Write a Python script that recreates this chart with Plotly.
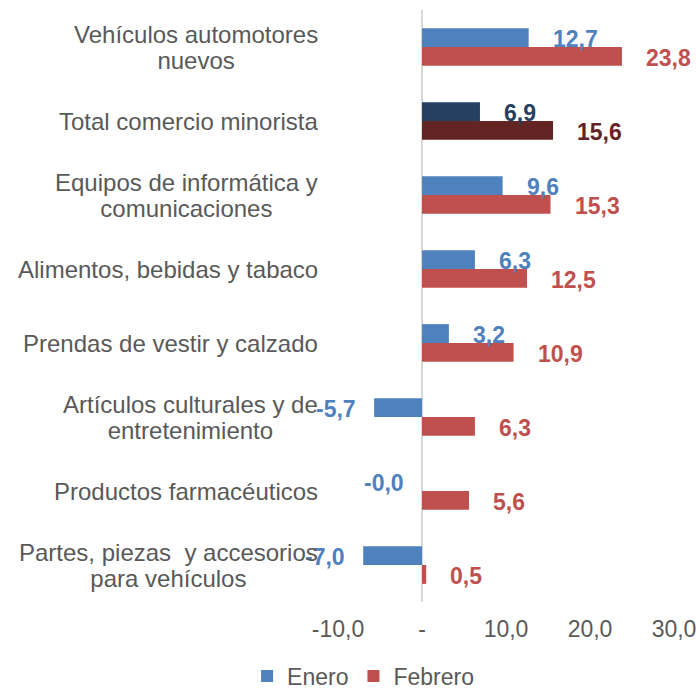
import math
import plotly.graph_objects as go

categories = [
    "Vehículos automotores\nnuevos",
    "Total comercio minorista",
    "Equipos de informática y\ncomunicaciones",
    "Alimentos, bebidas y tabaco",
    "Prendas de vestir y calzado",
    "Artículos culturales y de\nentretenimiento",
    "Productos farmacéuticos",
    "Partes, piezas  y accesorios\npara vehículos",
]
enero = [12.7, 6.9, 9.6, 6.3, 3.2, -5.7, -0.0, -7.0]
febrero = [23.8, 15.6, 15.3, 12.5, 10.9, 6.3, 5.6, 0.5]
tick_vals = [-10, 0, 10, 20, 30]
tick_text = ["-10,0", "-", "10,0", "20,0", "30,0"]

BLUE, RED = "#4F81BD", "#C0504D"
DBLUE, DRED = "#254061", "#632523"
TOTAL = "Total comercio minorista"

cat_ids = [c.replace("\n", " ") for c in categories]
col_e = [DBLUE if c == TOTAL else BLUE for c in cat_ids]
col_f = [DRED if c == TOTAL else RED for c in cat_ids]

FONT = "Liberation Sans, Arial, sans-serif"
GRAY = "#595959"

fig = go.Figure()
fig.add_trace(go.Bar(name="Enero", y=cat_ids, x=enero, orientation="h",
                     marker=dict(color=col_e, line=dict(width=0))))
fig.add_trace(go.Bar(name="Febrero", y=cat_ids, x=febrero, orientation="h",
                     marker=dict(color=col_f, line=dict(width=0))))

annotations = []
def fmt(v):
    return f"{v:.1f}".replace(".", ",")

for vals, cols, ys in ((enero, col_e, 8), (febrero, col_f, -11)):
    for c, v, col in zip(cat_ids, vals, cols):
        neg = math.copysign(1, v) < 0
        annotations.append(dict(
            x=v, y=c, xref="x", yref="y", text=fmt(v), showarrow=False,
            xanchor="right" if neg else "left", yanchor="middle",
            xshift=-16 if neg else 22, yshift=ys,
            font=dict(family=FONT, size=23, color=col, weight="bold"),
        ))

for c, lab in zip(cat_ids, categories):
    txt = "<br>".join(f'<span style="font-size:24px">{ln}</span>' for ln in lab.split("\n"))
    annotations.append(dict(
        x=0, y=c, xref="paper", yref="y", text=txt, showarrow=False,
        xanchor="right", yanchor="middle", align="center", xshift=-18,
        font=dict(family=FONT, size=20, color=GRAY),
    ))

fig.update_layout(
    width=696, height=692,
    margin=dict(l=338, r=22, t=10, b=90, autoexpand=False),
    paper_bgcolor="white", plot_bgcolor="white",
    barmode="group", bargap=0.49, bargroupgap=0,
    font=dict(family=FONT, size=23, color=GRAY),
    showlegend=True,
    legend=dict(orientation="h", xref="container", yref="paper",
                x=0.355, y=-0.125, xanchor="left", yanchor="middle",
                font=dict(family=FONT, size=23, color=GRAY),
                bgcolor="rgba(0,0,0,0)", traceorder="normal"),
    annotations=annotations,
)
fig.update_xaxes(range=[-10, 30], tickvals=tick_vals, ticktext=tick_text,
                 showgrid=False, zeroline=True, zerolinecolor="#D9D9D9",
                 zerolinewidth=2, showline=False, ticks="",
                 ticklabelstandoff=11, ticklabeloverflow="allow",
                 automargin=False,
                 tickfont=dict(family=FONT, size=23, color=GRAY))
fig.update_yaxes(categoryorder="array", categoryarray=cat_ids,
                 autorange="reversed", showticklabels=False, showgrid=False,
                 zeroline=False, showline=False, ticks="", automargin=False)

fig.write_html("out.html", config={"displayModeBar": False},
               post_script="document.body.style.margin='0';document.body.style.overflow='hidden';")
